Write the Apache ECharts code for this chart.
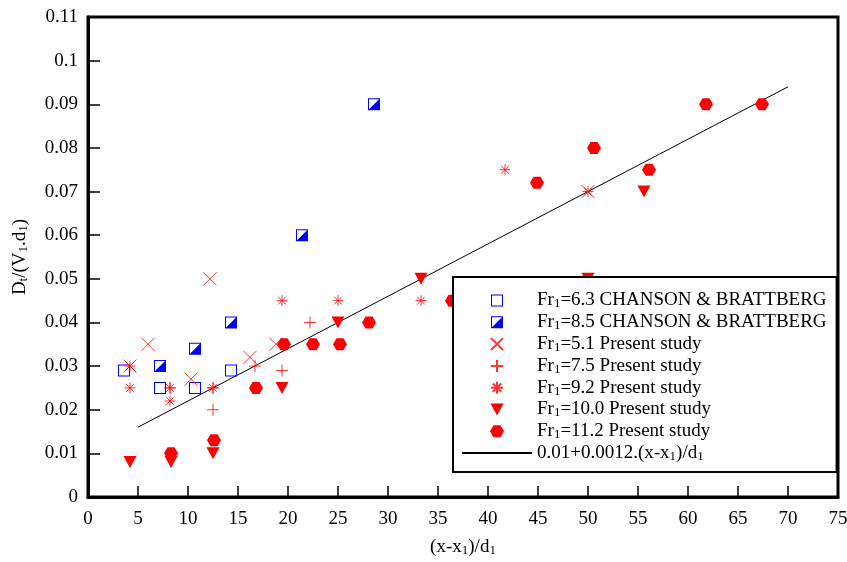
<!DOCTYPE html>
<html>
<head>
<meta charset="utf-8">
<script src="https://cdn.jsdelivr.net/npm/echarts@6/dist/echarts.min.js"></script>
<style>html,body{margin:0;padding:0;background:#fff;}#c{width:847px;height:562px;}</style>
</head>
<body>
<div id="c"></div>
<script>
// ---- data ----
const xTicks = [0, 5, 10, 15, 20, 25, 30, 35, 40, 45, 50, 55, 60, 65, 70, 75];
const yTicks = [0, 0.01, 0.02, 0.03, 0.04, 0.05, 0.06, 0.07, 0.08, 0.09, 0.1, 0.11];

const ch63X = [3.6, 7.2, 10.7, 14.3];
const ch63Y = [0.029, 0.025, 0.025, 0.029];

const ch85X = [7.2, 10.7, 14.3, 21.4, 28.6];
const ch85Y = [0.030, 0.034, 0.040, 0.060, 0.090];

const fr51X = [4.2, 6.0, 12.2, 10.3, 16.2, 18.8, 50.0];
const fr51Y = [0.030, 0.035, 0.050, 0.027, 0.032, 0.035, 0.070];

const fr75X = [8.2, 12.5, 12.5, 16.7, 19.4, 22.2];
const fr75Y = [0.025, 0.025, 0.020, 0.030, 0.029, 0.040];

const fr92X = [4.2, 4.2, 8.2, 8.2, 12.5, 19.4, 25.0, 33.3, 41.7, 50.0];
const fr92Y = [0.025, 0.030, 0.025, 0.022, 0.025, 0.045, 0.045, 0.045, 0.075, 0.070];

const fr100X = [4.2, 8.3, 12.5, 19.4, 25.0, 33.3, 50.0, 55.6];
const fr100Y = [0.008, 0.008, 0.010, 0.025, 0.040, 0.050, 0.050, 0.070];

const fr112X = [8.3, 12.6, 16.8, 19.6, 22.5, 25.2, 28.1, 36.4, 44.9, 50.6, 56.1, 61.8, 67.4];
const fr112Y = [0.010, 0.013, 0.025, 0.035, 0.035, 0.035, 0.040, 0.045, 0.072, 0.080, 0.075, 0.090, 0.090];

// fitted line 0.01 + 0.0012 (x-x1)/d1, drawn between x = 5 and x = 70
const fitX = [5, 70];
const fitY = [0.016, 0.094];

const seriesNames = [
  'Fr1=6.3 CHANSON & BRATTBERG',
  'Fr1=8.5 CHANSON & BRATTBERG',
  'Fr1=5.1 Present study',
  'Fr1=7.5 Present study',
  'Fr1=9.2 Present study',
  'Fr1=10.0 Present study',
  'Fr1=11.2 Present study',
  '0.01+0.0012.(x-x1)/d1'
];
const legendRich = {
  'Fr1=6.3 CHANSON & BRATTBERG': '{n|Fr}{s|1}{n|=6.3 CHANSON & BRATTBERG}',
  'Fr1=8.5 CHANSON & BRATTBERG': '{n|Fr}{s|1}{n|=8.5 CHANSON & BRATTBERG}',
  'Fr1=5.1 Present study': '{n|Fr}{s|1}{n|=5.1 Present study}',
  'Fr1=7.5 Present study': '{n|Fr}{s|1}{n|=7.5 Present study}',
  'Fr1=9.2 Present study': '{n|Fr}{s|1}{n|=9.2 Present study}',
  'Fr1=10.0 Present study': '{n|Fr}{s|1}{n|=10.0 Present study}',
  'Fr1=11.2 Present study': '{n|Fr}{s|1}{n|=11.2 Present study}',
  '0.01+0.0012.(x-x1)/d1': '{n|0.01+0.0012.(x-x}{s|1}{n|)/d}{s|1}'
};

function zip(xs, ys) { return xs.map((x, i) => [x, ys[i]]); }

const FONT = 'Liberation Serif';
const RED = '#ff0000';
const BLUE = '#0000ff';
const rich = {
  n: { fontFamily: FONT, fontSize: 19, lineHeight: 20, color: '#000' },
  s: { fontFamily: FONT, fontSize: 13, lineHeight: 10, verticalAlign: 'bottom', color: '#000' }
};

const SYM = {
  openSq: 'path://M0,0 L12,0 L12,12 L0,12 Z M1,1 L1,11 L11,11 L11,1 Z',
  halfSq: 'path://M0,0 L12,0 L12,12 L0,12 Z M1,1 L1,11 L11,11 L11,1 Z M12,0 L12,12 L0,12 Z',
  cross: 'path://M0,0 L12,12 M12,0 L0,12',
  plus: 'path://M6,0 L6,12 M0,6 L12,6',
  star: 'path://M5,0 L5,10 M0,5 L10,5 M1.5,1.5 L8.5,8.5 M8.5,1.5 L1.5,8.5',
  tri: 'path://M0,0 L13,0 L6.5,12 Z',
  hex: 'path://M0,6 L3.5,0 L10.5,0 L14,6 L10.5,12 L3.5,12 Z'
};

const chart = echarts.init(document.getElementById('c'), null, { renderer: 'canvas' });
chart.setOption({
  animation: false,
  backgroundColor: '#fff',
  grid: {
    left: 88, right: 9, top: 17, bottom: 65,
    show: true, borderColor: '#000', borderWidth: 3,
    containLabel: false, outerBoundsMode: 'none'
  },
  xAxis: {
    type: 'value', min: xTicks[0], max: xTicks[xTicks.length - 1], interval: 5,
    axisLine: { show: true, onZero: false, lineStyle: { color: '#000', width: 3 } },
    axisTick: { show: true, inside: true, length: 11, lineStyle: { color: '#000', width: 1.5 } },
    splitLine: { show: false },
    axisLabel: { color: '#000', fontFamily: FONT, fontSize: 19, margin: 13 },
    name: '{n|(x-x}{s|1}{n|)/d}{s|1}',
    nameLocation: 'middle', nameGap: 40,
    nameTextStyle: { rich: rich }
  },
  yAxis: {
    type: 'value', min: yTicks[0], max: yTicks[yTicks.length - 1], interval: 0.01,
    axisLine: { show: true, onZero: false, lineStyle: { color: '#000', width: 3 } },
    axisTick: { show: true, inside: true, length: 12, lineStyle: { color: '#000', width: 1.5 } },
    splitLine: { show: false },
    axisLabel: {
      color: '#000', fontFamily: FONT, fontSize: 19, margin: 10,
      formatter: v => String(+v.toFixed(2))
    },
    name: '{n|D}{s|t}{n|/(V}{s|1}{n|.d}{s|1}{n|)}',
    nameLocation: 'middle', nameGap: 58,
    nameTextStyle: { rich: rich }
  },
  legend: {
    orient: 'vertical',
    left: 453, top: 277,
    padding: [14, 10, 9, 8],
    itemWidth: 70, itemHeight: 12, itemGap: 2.3,
    backgroundColor: '#fff', borderColor: '#000', borderWidth: 2,
    borderRadius: 0,
    selectedMode: false,
    symbolKeepAspect: true,
    data: seriesNames,
    formatter: name => legendRich[name],
    textStyle: { rich: rich }
  },
  series: [
    {
      name: seriesNames[0], type: 'scatter', data: zip(ch63X, ch63Y),
      symbol: SYM.openSq, symbolSize: 12,
      itemStyle: { color: BLUE, opacity: 1 }, z: 3
    },
    {
      name: seriesNames[1], type: 'scatter', data: zip(ch85X, ch85Y),
      symbol: SYM.halfSq, symbolSize: 12,
      itemStyle: { color: BLUE, opacity: 1 }, z: 3
    },
    {
      name: seriesNames[2], type: 'scatter', data: zip(fr51X, fr51Y),
      symbol: SYM.cross, symbolSize: 13,
      itemStyle: { color: RED, borderColor: RED, borderWidth: 1 }, z: 3
    },
    {
      name: seriesNames[3], type: 'scatter', data: zip(fr75X, fr75Y),
      symbol: SYM.plus, symbolSize: 12,
      itemStyle: { color: RED, borderColor: RED, borderWidth: 1 }, z: 3
    },
    {
      name: seriesNames[4], type: 'scatter', data: zip(fr92X, fr92Y),
      symbol: SYM.star, symbolSize: 11,
      itemStyle: { color: RED, borderColor: RED, borderWidth: 1 }, z: 3
    },
    {
      name: seriesNames[5], type: 'scatter', data: zip(fr100X, fr100Y),
      symbol: SYM.tri, symbolSize: [13, 12],
      itemStyle: { color: RED, opacity: 1 }, z: 3
    },
    {
      name: seriesNames[6], type: 'scatter', data: zip(fr112X, fr112Y),
      symbol: SYM.hex, symbolSize: [14, 12],
      itemStyle: { color: RED, opacity: 1 }, z: 3
    },
    {
      name: seriesNames[7], type: 'line', data: zip(fitX, fitY),
      symbol: 'circle', showSymbol: false, symbolSize: 0,
      lineStyle: { color: '#000', width: 1 },
      itemStyle: { color: 'rgba(0,0,0,0)', borderColor: 'rgba(0,0,0,0)', borderWidth: 0 }, z: 2
    }
  ]
});
</script>
</body>
</html>
